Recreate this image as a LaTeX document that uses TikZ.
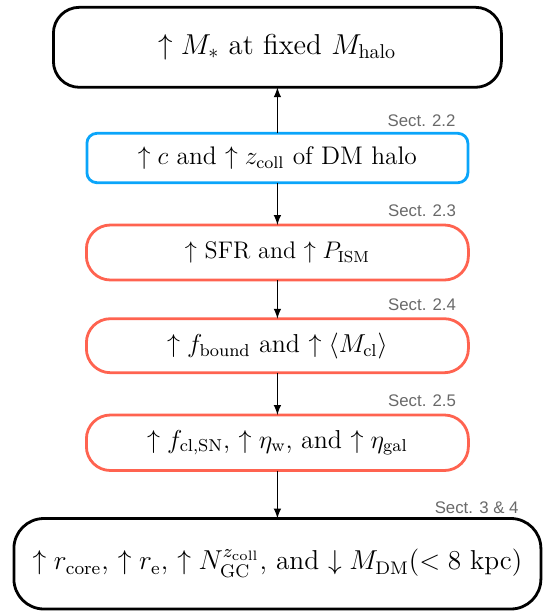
\documentclass[tikz,border=0pt]{standalone}
\usepackage{amsmath}
\usepackage{graphicx}
\usepackage{fontspec}
\newfontfamily\sectfont{Liberation Sans}
\usetikzlibrary{positioning, arrows}

\definecolor{haloblue}{RGB}{10,165,250}
\definecolor{gasred}{RGB}{255,99,80}
\definecolor{sectgray}{RGB}{105,105,105}

\newcommand{\enlargetext}[2][1.08]{\scalebox{#1}{#2}}

\begin{document}
\begin{tikzpicture}[->, >=latex, node distance = 20pt, auto,
	box/.style  = {draw=black, line width=1.4pt, outer sep=0pt, rounded corners=13pt, align=center, font=\Large},
	halo/.style = {box, draw=haloblue, rounded corners=5pt, font=\large},
	gas/.style  = {box, draw=gasred, rounded corners=12pt, font=\large},
	sect/.style = {font=\sectfont\fontsize{8.4}{9}\selectfont, text=sectgray, inner sep=0pt, anchor=south east}]
				\useasboundingbox (0,0) rectangle (271.5pt,-306pt);
				
				\node (mstar) [box, minimum width=224pt, minimum height=40pt]  at (138.7pt,-23.65pt) {$\uparrow M_{*}$ at fixed $M_{\rm halo}$};
				\node (conc)  [halo, minimum width=190.5pt, minimum height=24.7pt, below = 23pt of mstar] {\enlargetext[1.06]{$\uparrow c$ and $\uparrow z_{\rm coll}$ of DM halo}};
				\node (sfr)   [gas, minimum width=191pt, minimum height=27.5pt, below = 21.15pt of conc] {$\uparrow$ SFR and $\uparrow P_{\rm ISM}$};
				\node (bound) [gas, minimum width=191pt, minimum height=27pt, below = 19.35pt of sfr]
				              {\enlargetext{$\uparrow f_{\rm bound}$ and $\uparrow \langle M_{\rm cl}\rangle$}};
				\node (fb)    [gas, minimum width=191pt, minimum height=27.75pt, below = 21.15pt of bound]
				              {\enlargetext{$\uparrow f_{\rm cl,SN}$, $\uparrow \eta_{\rm w}$, and $\uparrow \eta_{\rm gal}$}};
				\node (res)   [box, minimum width=263.5pt, minimum height=45.25pt, rounded corners=15pt, below = 24pt of fb, font=\large]
				              {\enlargetext[1.14]{$\uparrow r_{\rm core}$, $\uparrow r_{\rm e}$, $\uparrow N_{\rm GC}^{z_{\rm coll}}$, and $\downarrow M_{\rm DM}(<8$ kpc$)$}};
				
				% section tags
				\node (s22) [sect, above left = 3pt and 6pt of conc.north east]  {Sect. 2.2};
				\node (s23) [sect, above left = 4pt and 6pt of sfr.north east]   {Sect. 2.3};
				\node (s24) [sect, above left = 4pt and 6pt of bound.north east] {Sect. 2.4};
				\node (s25) [sect, above left = 4pt and 6pt of fb.north east]    {Sect. 2.5};
				\node (s34) [sect, above left = 2pt and 11pt of res.north east]  {Sect. 3 \& 4};
				
				\path[line width=0.7pt]
				(conc)  edge (mstar)
				(conc)  edge (sfr)
				(sfr)   edge (bound)
				(bound) edge (fb)
				(fb)    edge (res)
				;
				
			\end{tikzpicture}
\end{document}
